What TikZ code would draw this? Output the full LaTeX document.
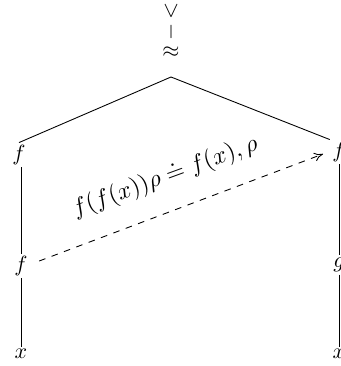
\documentclass[tikz,border=0pt]{standalone}
\usetikzlibrary{arrows.meta}
\begin{document}
\begin{tikzpicture}[x=0.4545pt,y=-0.4545pt,
  lbl/.style={inner sep=1pt},
  edge/.style={line width=0.4pt},
  dasharrow/.style={dashed,line width=0.4pt,-{To[length=4pt,width=4pt]}}]
\useasboundingbox (0,0) rectangle (341,366);
% top stack
\node[lbl] (vee) at (171,11) {\rotatebox{90}{$<$}};
\node[lbl] (bar) at (171,32) {\rotatebox{90}{$-$}};
\node[lbl] (top) at (171,52) {$\approx$};
\coordinate (apex) at (171,77);
% left column
\node[lbl] (lf1) at (19,155) {$f$};
\node[lbl] (lf2) at (21,266) {$f$};
\node[lbl] (lx) at (21,354) {$x$};
% right column
\node[lbl] (rf1) at (339,152) {$f$};
\node[lbl] (rg) at (339,265) {$g$};
\node[lbl] (rx) at (339,354) {$x$};
% edges
\draw[edge] (apex) -- (lf1.north);
\draw[edge] (apex) -- (rf1.north west);
\draw[edge] (lf2 |- lf1.south) -- (lf2.north);
\draw[edge] (lf2.south) -- (lx.north);
\draw[edge] (rf1.south) -- (rg.north);
\draw[edge] (rg.south) -- (rx.north);
% dashed arrow
\coordinate (aend) at (323,154);
\draw[dasharrow] (lf2.east) ++(9,-5) -- (aend);
\node[rotate=20, scale=1.1] (eq) at (165,177) {$f(f(x))\rho \doteq f(x),\rho$};
\end{tikzpicture}
\end{document}
